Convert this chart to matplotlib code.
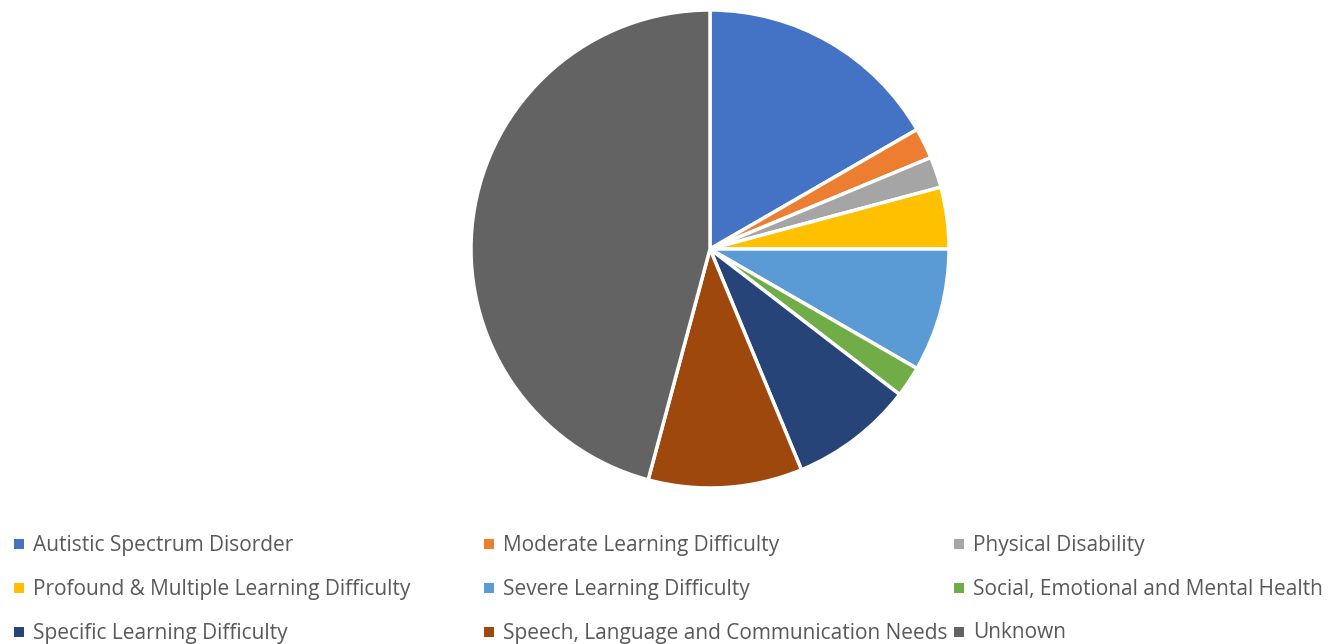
import matplotlib
matplotlib.use('Agg')
import matplotlib.pyplot as plt

labels = ['Autistic Spectrum Disorder', 'Moderate Learning Difficulty', 'Physical Disability',
          'Profound & Multiple Learning Difficulty', 'Severe Learning Difficulty',
          'Social, Emotional and Mental Health', 'Specific Learning Difficulty',
          'Speech, Language and Communication Needs', 'Unknown']
counts = [8, 1, 1, 2, 4, 1, 4, 5, 22]
colors = ['#4472C4', '#ED7D31', '#A5A5A5', '#FFC000', '#5B9BD5',
          '#70AD47', '#264478', '#9E480E', '#636363']
TXT = '#595959'

W, H = 1329, 644
fig = plt.figure(figsize=(W / 100, H / 100), dpi=100)

# pie: center (710, 249), radius ~238 px
cx, cy, r = 710, 249, 239
ax = fig.add_axes([(cx - r) / W, (H - cy - r) / H, 2 * r / W, 2 * r / H])
ax.pie(counts, colors=colors, startangle=90, counterclock=False,
       wedgeprops=dict(edgecolor='white', linewidth=2.5))
ax.set_aspect('equal')
ax.set_xlim(-1, 1); ax.set_ylim(-1, 1)

# legend, 3 equal columns like Excel
lax = fig.add_axes([0, 0, 1, 1])
lax.set_xlim(0, W); lax.set_ylim(H, 0)
lax.axis('off')
col_x = [20, 490, 960]
row_y = [545, 589, 633]
for i, (lab, col) in enumerate(zip(labels, colors)):
    x = col_x[i % 3]; y = row_y[i // 3]
    lax.scatter([x - 1], [y - 1], marker='s', s=45, color=col, linewidths=0)
    lax.text(x + 13, y, lab, va='center', ha='left', fontsize=15,
             color=TXT, family='Open Sans')

fig.savefig('out.png', dpi=100)
